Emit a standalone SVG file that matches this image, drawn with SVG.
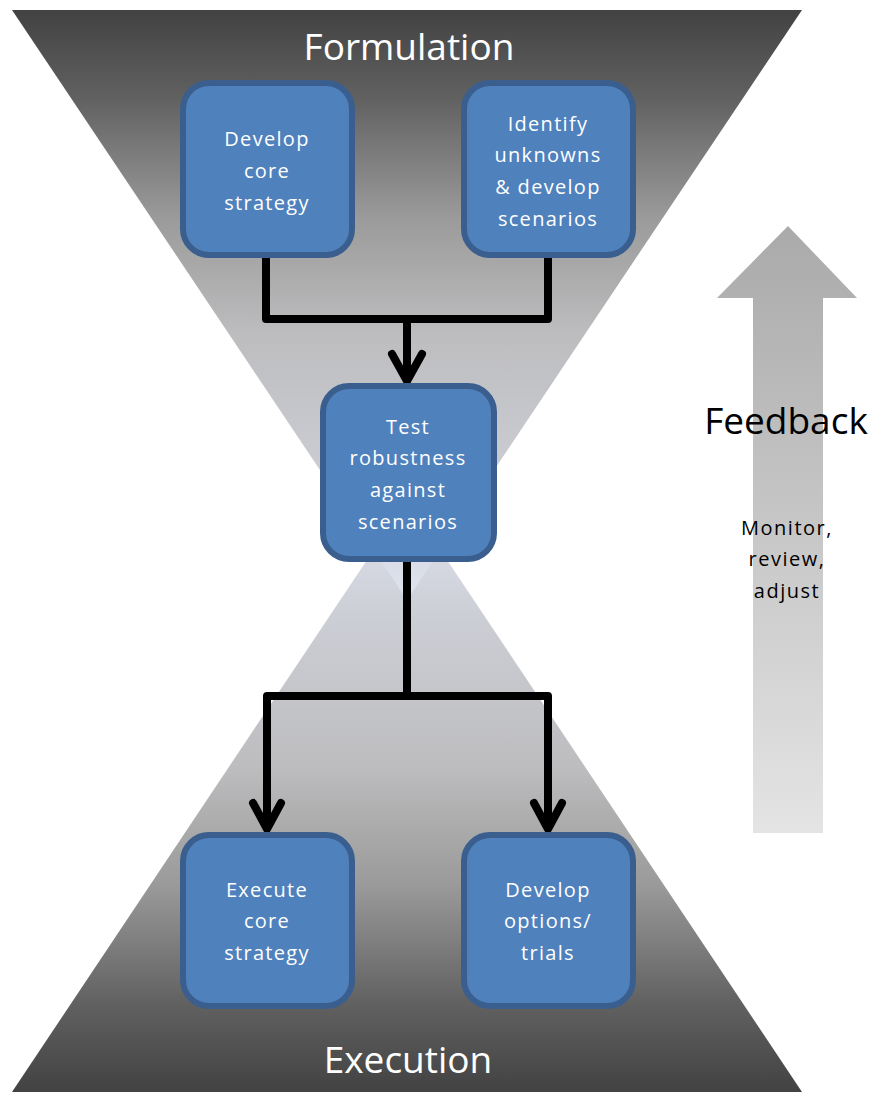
<svg xmlns="http://www.w3.org/2000/svg" width="875" height="1093" viewBox="0 0 875 1093">
<defs>
<linearGradient id="gTop" x1="0" y1="10" x2="0" y2="600" gradientUnits="userSpaceOnUse">
<stop offset="0" stop-color="#424242"/>
<stop offset="0.15" stop-color="#616161"/>
<stop offset="0.35" stop-color="#9a9a9a"/>
<stop offset="0.55" stop-color="#bdbdbf"/>
<stop offset="0.8" stop-color="#ccced5"/>
<stop offset="1" stop-color="#e0e4f0"/>
</linearGradient>
<linearGradient id="gBot" x1="0" y1="1092" x2="0" y2="500" gradientUnits="userSpaceOnUse">
<stop offset="0" stop-color="#424242"/>
<stop offset="0.15" stop-color="#616161"/>
<stop offset="0.35" stop-color="#9a9a9a"/>
<stop offset="0.55" stop-color="#bdbdbf"/>
<stop offset="0.8" stop-color="#ccced5"/>
<stop offset="1" stop-color="#e0e4f0"/>
</linearGradient>
<linearGradient id="gArrow" x1="0" y1="226" x2="0" y2="833" gradientUnits="userSpaceOnUse">
<stop offset="0" stop-color="#aaaaaa"/>
<stop offset="1" stop-color="#e4e4e4"/>
</linearGradient>
</defs>
<style>
.box{fill:#4f81bd;stroke:#3a5f8f;stroke-width:6}
.bt{font-family:"Open Sans","Liberation Sans",sans-serif;font-size:20px;fill:#ffffff;text-anchor:middle;letter-spacing:1.3px}
.title{font-family:"Open Sans","Liberation Sans",sans-serif;font-size:37px;fill:#ffffff;text-anchor:middle}
.conn{fill:none;stroke:#000000;stroke-width:8;stroke-linejoin:round}
.head{fill:none;stroke:#000000;stroke-width:8;stroke-linecap:round;stroke-linejoin:round}
</style>
<g id="hourglass">
<polygon points="12,1092 802,1092 407,500" fill="url(#gBot)"/>
<polygon points="12,10 802,10 407,600" fill="url(#gTop)"/>
</g>
<g id="feedback">
<polygon points="788,226 857,298 823,298 823,833 753,833 753,298 717,298" fill="url(#gArrow)"/>
<text x="786" y="434" font-family="Open Sans, Liberation Sans, sans-serif" font-size="37" fill="#000" text-anchor="middle">Feedback</text>
<text font-family="Open Sans, Liberation Sans, sans-serif" font-size="20" fill="#000" text-anchor="middle" letter-spacing="1.5"><tspan x="787" y="535">Monitor,</tspan><tspan x="787" y="566">review,</tspan><tspan x="787" y="598">adjust</tspan></text>
</g>
<text class="title" x="409" y="60">Formulation</text>
<text class="title" x="408" y="1073">Execution</text>
<g id="connectors">
<path class="conn" d="M266,257 V319 H548 V257"/>
<path class="conn" d="M407,319 V381"/>
<path class="head" d="M392,354 L407,381 L422,354"/>
<path class="conn" d="M407,562 V696"/>
<path class="conn" d="M267,829 V696 H548 V829"/>
<path class="head" d="M253,803 L267,829 L281,803"/>
<path class="head" d="M534,803 L548,829 L562,803"/>
</g>
<g id="n1">
<rect class="box" x="183" y="83" width="169" height="172" rx="26"/>
<text class="bt"><tspan x="267" y="146">Develop</tspan><tspan x="267" y="178">core</tspan><tspan x="267" y="210">strategy</tspan></text>
</g>
<g id="n2">
<rect class="box" x="464" y="83" width="169" height="172" rx="26"/>
<text class="bt"><tspan x="548" y="131">Identify</tspan><tspan x="548" y="162">unknowns</tspan><tspan x="548" y="194">&amp; develop</tspan><tspan x="548" y="226">scenarios</tspan></text>
</g>
<g id="n3">
<rect class="box" x="323" y="386" width="171" height="173" rx="26"/>
<text class="bt"><tspan x="408" y="434">Test</tspan><tspan x="408" y="465">robustness</tspan><tspan x="408" y="497">against</tspan><tspan x="408" y="529">scenarios</tspan></text>
</g>
<g id="n4">
<rect class="box" x="183" y="835" width="169" height="171" rx="26"/>
<text class="bt"><tspan x="267" y="897">Execute</tspan><tspan x="267" y="928">core</tspan><tspan x="267" y="960">strategy</tspan></text>
</g>
<g id="n5">
<rect class="box" x="464" y="835" width="169" height="171" rx="26"/>
<text class="bt"><tspan x="548" y="897">Develop</tspan><tspan x="548" y="928">options/</tspan><tspan x="548" y="960">trials</tspan></text>
</g>
</svg>
